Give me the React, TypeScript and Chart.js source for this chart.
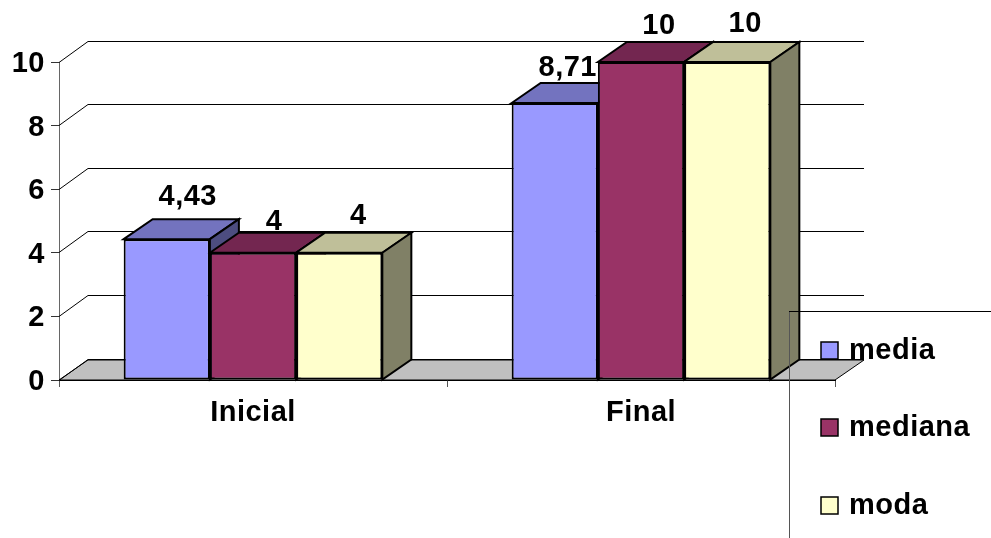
import React, { useEffect, useRef } from "react";
import { Chart, registerables } from "chart.js";

Chart.register(...registerables);

const categories = ["Inicial", "Final"];
const seriesNames = ["media", "mediana", "moda"];
const mediaValues = [4.43, 8.71];
const medianaValues = [4, 10];
const modaValues = [4, 10];

const frontColors = ["#9999FF", "#993366", "#FFFFCC"];
const topColors = ["#7373BF", "#732650", "#BFBF99"];
const sideColors = ["#4D4D80", "#4D1A33", "#808066"];

const DEPTH_X = 29;
const DEPTH_Y = 20;
const FONT = "Liberation Sans";
const LABEL_NUDGE = [
  [[21, -42], [13, -35]],
  [[21, -31], [18, -36]],
  [[19, -37], [18, -38]],
];

function poly(ctx: CanvasRenderingContext2D, pts: number[][], fill: string | null, stroke: string, w: number) {
  ctx.beginPath();
  pts.forEach((p, i) => (i ? ctx.lineTo(p[0], p[1]) : ctx.moveTo(p[0], p[1])));
  if (fill) {
    ctx.closePath();
    ctx.fillStyle = fill;
    ctx.fill();
  }
  ctx.strokeStyle = stroke;
  ctx.lineWidth = w;
  ctx.stroke();
}

const threeD = {
  id: "threeD",
  beforeDraw(chart: any) {
    chart.ctx.letterSpacing = "0.5px";
  },
  beforeDatasetsDraw(chart: any) {
    const { ctx, chartArea, scales } = chart;
    const { left, right } = chartArea;
    const y = scales.y;
    const y0 = Math.round(y.getPixelForValue(0));
    ctx.save();
    poly(ctx, [[left, y0], [left + DEPTH_X, y0 - DEPTH_Y], [right + DEPTH_X, y0 - DEPTH_Y], [right, y0]], "#C0C0C0", "#000", 1);
    y.ticks.forEach((t: any) => {
      const py = Math.floor(y.getPixelForValue(t.value)) + 0.5;
      poly(ctx, [[left, py], [left + DEPTH_X, py - DEPTH_Y - 1], [right + DEPTH_X, py - DEPTH_Y - 1]], null, "#000", 1);
    });
    chart.data.datasets.forEach((_: any, di: number) => {
      chart.getDatasetMeta(di).data.forEach((bar: any) => {
        const p = bar.getProps(["x", "y", "base", "width"], true);
        const l = p.x - p.width / 2;
        const r = p.x + p.width / 2;
        poly(ctx, [[l, p.y], [l + DEPTH_X, p.y - DEPTH_Y], [r + DEPTH_X, p.y - DEPTH_Y], [r, p.y]], topColors[di], "#000", 2);
        poly(ctx, [[r, p.y], [r + DEPTH_X, p.y - DEPTH_Y], [r + DEPTH_X, p.base - DEPTH_Y], [r, p.base]], sideColors[di], "#000", 2);
      });
    });
    ctx.restore();
  },
  afterDatasetsDraw(chart: any) {
    const { ctx } = chart;
    ctx.save();
    ctx.fillStyle = "#000";
    ctx.font = `bold 29px "${FONT}"`;
    ctx.textAlign = "center";
    ctx.textBaseline = "middle";
    chart.data.datasets.forEach((ds: any, di: number) => {
      chart.getDatasetMeta(di).data.forEach((bar: any, i: number) => {
        const p = bar.getProps(["x", "y"], true);
        const [dx, dy] = LABEL_NUDGE[di][i];
        ctx.fillText(String(ds.data[i]).replace(".", ","), p.x + dx, p.y + dy);
      });
    });
    ctx.restore();
  },
  afterDraw(chart: any) {
    const { ctx } = chart;
    ctx.save();
    poly(ctx, [[789.5, 538], [789.5, 311.5]], null, "#555", 1);
    poly(ctx, [[789, 311.5], [991, 311.5]], null, "#000", 1);
    const rows = [359, 436, 514];
    ctx.font = `bold 29px "${FONT}"`;
    ctx.textAlign = "left";
    ctx.textBaseline = "alphabetic";
    chart.data.datasets.forEach((ds: any, di: number) => {
      const base = rows[di];
      ctx.fillStyle = frontColors[di];
      ctx.fillRect(821, base - 17, 17, 17);
      ctx.strokeStyle = "#000";
      ctx.lineWidth = 1.5;
      ctx.strokeRect(821, base - 17, 17, 17);
      ctx.fillStyle = "#000";
      ctx.fillText(ds.label, 849, base);
    });
    ctx.restore();
  },
};

export default function App() {
  const ref = useRef<HTMLCanvasElement>(null);
  useEffect(() => {
    const series = [mediaValues, medianaValues, modaValues];
    const chart = new Chart(ref.current as HTMLCanvasElement, {
      type: "bar",
      data: {
        labels: categories,
        datasets: seriesNames.map((label, i) => ({
          label,
          data: series[i],
          backgroundColor: frontColors[i],
          borderColor: "#000",
          borderWidth: 2,
          borderSkipped: false,
          categoryPercentage: 0.6667,
          barPercentage: 1,
        })),
      },
      options: {
        animation: false,
        responsive: false,
        devicePixelRatio: 1,
        layout: { padding: { left: 0, right: 156, top: 62, bottom: 0 } },
        plugins: { legend: { display: false }, tooltip: { enabled: false }, title: { display: false } },
        scales: {
          x: {
            afterFit: (s: any) => { s.height = 158; },
            grid: { drawOnChartArea: false, tickLength: 7, color: "#555", offset: true },
            border: { color: "#000", width: 1 },
            ticks: { color: "#000", padding: 9, maxRotation: 0, font: { family: FONT, size: 29, weight: "bold" } },
          },
          y: {
            min: 0,
            max: 10,
            afterFit: (s: any) => { s.width = 59; },
            grid: { drawOnChartArea: false, tickLength: 8, color: "#333" },
            border: { color: "#666", width: 1 },
            ticks: { stepSize: 2, color: "#000", padding: 6, labelOffset: 2, font: { family: FONT, size: 29, weight: "bold" } },
          },
        },
      },
      plugins: [threeD],
    } as any);
    return () => chart.destroy();
  }, []);
  return (
    <canvas
      ref={ref}
      width={991}
      height={538}
      style={{ position: "fixed", left: 0, top: 0, width: 991, height: 538, display: "block" }}
    />
  );
}
